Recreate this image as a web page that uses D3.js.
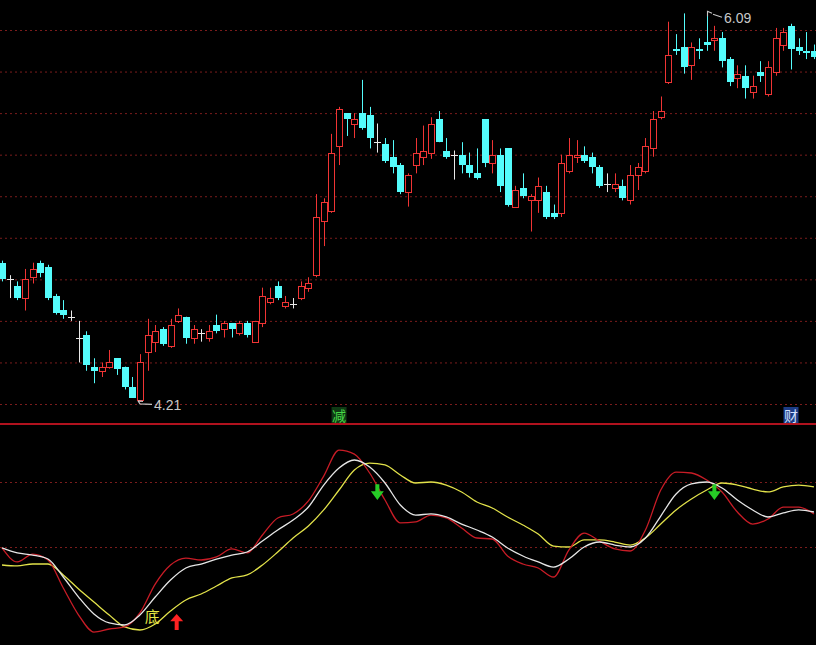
<!DOCTYPE html>
<html><head><meta charset="utf-8">
<script src="https://cdn.jsdelivr.net/npm/d3@7"></script>
<style>html,body{margin:0;padding:0;background:#000;overflow:hidden}svg{display:block}</style>
</head><body>
<svg id="chart" width="816" height="645"></svg>
<script>
// ---- data ----
const opens  = [4.88,4.80,4.77,4.71,4.81,4.88,4.86,4.72,4.65,4.62,4.52,4.53,4.38,4.36,4.38,4.42,4.38,4.28,4.22,4.45,
                4.50,4.56,4.48,4.60,4.62,4.52,4.54,4.52,4.58,4.56,4.59,4.54,4.59,4.50,4.59,4.69,4.77,4.67,4.68,4.71,
                4.76,4.82,5.08,5.13,5.44,5.60,5.55,5.60,5.59,5.46,5.45,5.39,5.35,5.22,5.35,5.39,5.41,5.57,5.42,5.40,
                5.40,5.35,5.31,5.57,5.36,5.40,5.43,5.15,5.24,5.18,5.18,5.22,5.12,5.12,5.32,5.39,5.40,5.39,5.34,5.26,
                5.24,5.25,5.18,5.30,5.32,5.43,5.58,5.75,5.91,5.92,5.83,5.91,5.94,5.95,5.96,5.86,5.77,5.78,5.70,5.80,
                5.69,5.80,5.93,6.02,5.92,5.90,5.90];
const highs  = [4.89,4.82,4.79,4.85,4.88,4.89,4.87,4.73,4.70,4.65,4.60,4.55,4.42,4.40,4.46,4.42,4.38,4.33,4.44,4.61,
                4.58,4.57,4.61,4.66,4.62,4.58,4.56,4.58,4.63,4.60,4.59,4.60,4.60,4.60,4.76,4.76,4.79,4.72,4.71,4.79,
                4.81,5.21,5.19,5.50,5.63,5.60,5.60,5.76,5.63,5.55,5.48,5.47,5.36,5.31,5.48,5.54,5.58,5.61,5.48,5.42,
                5.46,5.41,5.43,5.57,5.47,5.43,5.43,5.25,5.31,5.21,5.29,5.25,5.16,5.40,5.48,5.47,5.44,5.41,5.35,5.31,
                5.31,5.28,5.35,5.36,5.48,5.61,5.68,6.04,5.98,6.08,5.94,5.96,6.09,6.02,5.99,5.87,5.83,5.83,5.78,5.85,
                5.85,6.01,6.01,6.03,5.96,5.99,5.93];
const lows   = [4.79,4.71,4.70,4.65,4.78,4.81,4.70,4.63,4.61,4.60,4.40,4.36,4.30,4.33,4.37,4.34,4.27,4.23,4.21,4.36,
                4.45,4.48,4.47,4.59,4.49,4.49,4.50,4.50,4.54,4.52,4.52,4.53,4.52,4.50,4.57,4.68,4.70,4.66,4.66,4.70,
                4.74,4.81,4.96,5.12,5.35,5.49,5.48,5.52,5.43,5.41,5.36,5.31,5.21,5.15,5.31,5.35,5.38,5.46,5.38,5.28,
                5.31,5.29,5.28,5.34,5.31,5.22,5.15,5.15,5.19,5.03,5.12,5.09,5.09,5.10,5.31,5.36,5.36,5.31,5.24,5.22,
                5.22,5.18,5.16,5.23,5.31,5.39,5.57,5.74,5.88,5.79,5.76,5.86,5.90,5.90,5.82,5.73,5.72,5.67,5.67,5.75,
                5.68,5.78,5.90,5.81,5.88,5.86,5.86];
const closes = [4.80,4.80,4.71,4.80,4.85,4.83,4.71,4.64,4.63,4.62,4.52,4.39,4.36,4.38,4.40,4.37,4.28,4.23,4.40,4.53,
                4.55,4.49,4.58,4.63,4.52,4.56,4.54,4.55,4.55,4.59,4.56,4.59,4.53,4.60,4.72,4.71,4.71,4.69,4.68,4.77,
                4.78,5.10,5.17,5.41,5.62,5.57,5.57,5.53,5.48,5.46,5.37,5.34,5.22,5.30,5.41,5.42,5.55,5.46,5.39,5.40,
                5.35,5.31,5.29,5.36,5.40,5.25,5.16,5.23,5.20,5.20,5.25,5.10,5.10,5.36,5.40,5.40,5.37,5.34,5.25,5.26,
                5.26,5.19,5.30,5.34,5.44,5.57,5.61,5.88,5.90,5.82,5.92,5.90,5.93,5.96,5.85,5.75,5.79,5.72,5.73,5.78,
                5.82,5.96,5.99,5.91,5.90,5.89,5.87];
const priceTicks = [4.2,4.4,4.6,4.8,5.0,5.2,5.4,5.6,5.8,6.0];

// oscillator lines, one value every second bar (bars 0,2,4,...,106)
const lineRed    = [19.1,6.2,13.5,8.0,-17.8,-42.8,-58.5,-55.7,-53.8,-40.9,-14.2,3.4,9.8,8.0,10.8,18.2,14.5,31.1,46.8,50.5,
                    62.5,85.5,109.5,105.8,88.3,63.4,42.2,43.1,49.5,46.8,37.5,28.3,27.4,11.7,4.3,0.6,-7.7,17.2,32.9,25.5,
                    18.2,16.3,35.7,72.6,89.2,88.3,81.8,70.8,52.3,41.2,45.8,56.9,56.9,50.5];
const lineWhite  = [19.1,14.5,12.6,8.9,-7.7,-26.2,-41.8,-50.1,-52.0,-42.8,-26.2,-10.5,0.6,4.3,8.9,12.6,15.4,25.5,35.7,44.9,
                    56.9,77.2,92.9,100.3,93.8,79.1,58.8,49.5,50.5,47.7,41.2,35.7,29.2,19.1,11.7,6.2,1.5,8.9,20.0,24.6,
                    21.8,20.0,28.3,48.6,68.9,78.2,80.0,74.5,63.4,54.2,47.7,51.4,54.2,52.3];
const lineYellow = [3.4,2.5,4.3,4.3,-5.8,-18.8,-30.8,-42.8,-53.8,-56.6,-51.1,-39.1,-28.9,-23.4,-16.0,-8.6,-5.8,3.4,15.4,28.3,
                    39.4,54.2,72.6,91.1,97.5,95.7,86.5,79.1,80.0,77.2,70.8,61.5,56.0,47.7,40.3,32.0,20.9,20.0,26.5,26.5,
                    24.6,21.8,28.3,41.2,54.2,64.3,72.6,79.1,77.2,73.5,70.8,75.4,77.2,75.4];
const oscTicks = [20, 80];
const buySignals = [23];
const sellSignals = [49, 93];
const bottomLabels = [{i:20, text:"底"}];
const infoMarks = [{i:44, text:"减", kind:"g"}, {i:103, text:"财", kind:"b"}];

// ---- drawing ----
const W = 816, H = 645;
const n = opens.length;
const svg = d3.select("#chart");
svg.append("rect").attr("width", W).attr("height", H).attr("fill", "#000");

const x = d3.scaleBand().domain(d3.range(n)).range([-1.83, -1.83 + n * 7.66]);
const cx = i => x(i) + x.bandwidth() / 2;
const y = d3.scaleLinear().domain([4.2, 6.0]).range([404, 30]);
const yo = d3.scaleLinear().domain([20, 80]).range([547, 482]);

const RED = "#f03434", CYAN = "#54fcfc", WHITE = "#e8e8e8";

// price grid
const gTop = svg.append("g").attr("class", "grid-top")
  .call(d3.axisRight(y).tickValues(priceTicks).tickSize(W).tickFormat(""));
gTop.select(".domain").remove();
gTop.selectAll(".tick line").attr("stroke", "#7a1c1c").attr("stroke-dasharray", "2,3").attr("stroke-width", 1);

// oscillator grid
const gBot = svg.append("g").attr("class", "grid-bot")
  .call(d3.axisRight(yo).tickValues(oscTicks).tickSize(W).tickFormat(""));
gBot.select(".domain").remove();
gBot.selectAll(".tick line").attr("stroke", "#7a1c1c").attr("stroke-dasharray", "2,3").attr("stroke-width", 1);

// separator
svg.append("line").attr("x1", 0).attr("x2", W).attr("y1", 424).attr("y2", 424)
  .attr("stroke", "#b0121e").attr("stroke-width", 2);

// candles
const bars = d3.range(n).map(i => ({i, o: opens[i], h: highs[i], l: lows[i], c: closes[i]}));
const gC = svg.append("g").attr("class", "candles");
bars.forEach(d => {
  const r = Math.round(cx(d.i));
  const px = r + 0.5;
  const yH = y(d.h), yL = y(d.l), yO = y(d.o), yC = y(d.c);
  if (d.c > d.o) {
    const top = Math.round(yC) + 0.5, bot = Math.max(Math.round(yO) + 0.5, top + 1);
    gC.append("line").attr("x1", px).attr("x2", px).attr("y1", yH).attr("y2", top).attr("stroke", RED);
    gC.append("line").attr("x1", px).attr("x2", px).attr("y1", bot).attr("y2", yL).attr("stroke", RED);
    gC.append("rect").attr("x", r - 2.5).attr("y", top).attr("width", 6).attr("height", bot - top)
      .attr("fill", "#000").attr("stroke", RED).attr("stroke-width", 1);
  } else if (d.c < d.o) {
    gC.append("line").attr("x1", px).attr("x2", px).attr("y1", yH).attr("y2", yL).attr("stroke", CYAN);
    const top = Math.round(yO), bot = Math.max(Math.round(yC), top + 2);
    gC.append("rect").attr("x", r - 3).attr("y", top).attr("width", 7).attr("height", bot - top).attr("fill", CYAN);
  } else {
    gC.append("line").attr("x1", px).attr("x2", px).attr("y1", yH).attr("y2", yL).attr("stroke", WHITE);
    const yy = Math.round(yO) + 0.5;
    gC.append("line").attr("x1", r - 3).attr("x2", r + 4).attr("y1", yy).attr("y2", yy).attr("stroke", WHITE);
  }
});

// high / low annotations
const LABEL = "#c8c8c8";
const iMin = d3.minIndex(lows), iMax = d3.maxIndex(highs);
{
  const lx = Math.round(cx(iMin)), ly = y(lows[iMin]);
  svg.append("path").attr("d", `M${lx-2},${ly-1} L${lx},${ly+2} L${lx+12},${ly+2.5} M${lx-2},${ly-1} L${lx+3},${ly-0.5}`)
    .attr("stroke", LABEL).attr("fill", "none").attr("stroke-width", 1.1);
  svg.append("text").attr("x", lx + 14).attr("y", ly + 8.5).text(lows[iMin].toFixed(2))
    .attr("fill", LABEL).attr("font-family", "Liberation Sans, Arial, sans-serif").attr("font-size", 14);
  const hx = Math.round(cx(iMax)), hy = y(highs[iMax]);
  svg.append("path").attr("d", `M${hx+0.5},${hy+5} L${hx+0.5},${hy} L${hx+5},${hy+2} M${hx+6},${hy+3} L${hx+15},${hy+6}`)
    .attr("stroke", LABEL).attr("fill", "none").attr("stroke-width", 1.1);
  svg.append("text").attr("x", hx + 17).attr("y", hy + 12).text(highs[iMax].toFixed(2))
    .attr("fill", LABEL).attr("font-family", "Liberation Sans, Arial, sans-serif").attr("font-size", 14);
}

// info markers (减 / 财)
infoMarks.forEach(m => {
  const mx = cx(m.i);
  svg.append("rect").attr("x", mx - 7.5).attr("y", 407).attr("width", 15).attr("height", 16)
    .attr("fill", m.kind === "g" ? "#0f3a14" : "#1c3c86");
  svg.append("text").attr("x", mx).attr("y", 420.5).attr("text-anchor", "middle").text(m.text)
    .attr("fill", m.kind === "g" ? "#46d846" : "#d4e2ff")
    .attr("font-family", "Noto Sans CJK SC, sans-serif").attr("font-size", 14);
});

// oscillator lines
const lineIdx = d3.range(0, n, 2);
const line = d3.line().x((d, k) => cx(lineIdx[k])).y(d => yo(d)).curve(d3.curveMonotoneX);
[[lineYellow, "#e2e24a"], [lineRed, "#c81c26"], [lineWhite, "#e6e6e6"]].forEach(([data, col]) => {
  svg.append("path").datum(data).attr("d", line).attr("fill", "none").attr("stroke", col).attr("stroke-width", 1.3);
});

// signals
sellSignals.forEach(i => {
  const sx = cx(i), t = yo(78), b = yo(63.4), m = t + (b - t) * 0.45;
  svg.append("path").attr("d", `M${sx-2},${t} L${sx+2},${t} L${sx+2},${m} L${sx+6.5},${m} L${sx},${b} L${sx-6.5},${m} L${sx-2},${m} Z`)
    .attr("fill", "#26cc26");
});
buySignals.forEach(i => {
  const sx = cx(i) - 1.5, t = yo(-41.8), b = yo(-56.6), m = t + (b - t) * 0.45;
  svg.append("path").attr("d", `M${sx},${t} L${sx+6.5},${m} L${sx+2},${m} L${sx+2},${b} L${sx-2},${b} L${sx-2},${m} L${sx-6.5},${m} Z`)
    .attr("fill", "#ff2222");
});
bottomLabels.forEach(m => {
  svg.append("text").attr("x", cx(m.i) - 3).attr("y", yo(-49)).attr("text-anchor", "middle").text(m.text)
    .attr("fill", "#e6e646").attr("font-family", "Noto Sans CJK SC, sans-serif").attr("font-size", 15);
});
</script>
</body></html>
